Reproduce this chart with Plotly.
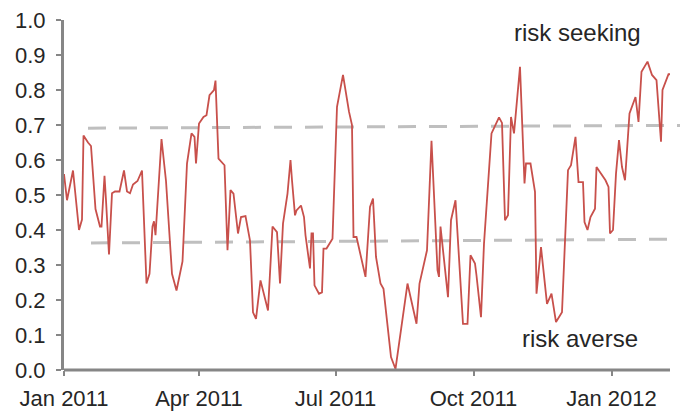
import plotly.graph_objects as go

dates = [
    "2011-01-01", "2011-01-03", "2011-01-07", "2011-01-11", "2011-01-13", "2011-01-14",
    "2011-01-17", "2011-01-19", "2011-01-22", "2011-01-25", "2011-01-26", "2011-01-28",
    "2011-01-29", "2011-01-31", "2011-02-02", "2011-02-04", "2011-02-07", "2011-02-10",
    "2011-02-12", "2011-02-14", "2011-02-16", "2011-02-19", "2011-02-22", "2011-02-25",
    "2011-02-27", "2011-03-01", "2011-03-02", "2011-03-03", "2011-03-07", "2011-03-10",
    "2011-03-14", "2011-03-17", "2011-03-21", "2011-03-24", "2011-03-27", "2011-03-29",
    "2011-03-30", "2011-04-01", "2011-04-04", "2011-04-06", "2011-04-08", "2011-04-11",
    "2011-04-12", "2011-04-14", "2011-04-18", "2011-04-20", "2011-04-22", "2011-04-24",
    "2011-04-27", "2011-04-29", "2011-05-02", "2011-05-05", "2011-05-07", "2011-05-09",
    "2011-05-12", "2011-05-17", "2011-05-20", "2011-05-23", "2011-05-25", "2011-05-27",
    "2011-05-30", "2011-06-01", "2011-06-02", "2011-06-04", "2011-06-05", "2011-06-08",
    "2011-06-10", "2011-06-11", "2011-06-14", "2011-06-15", "2011-06-16", "2011-06-17",
    "2011-06-20", "2011-06-22", "2011-06-23", "2011-06-25", "2011-06-29", "2011-07-02",
    "2011-07-06", "2011-07-10", "2011-07-12", "2011-07-13", "2011-07-15", "2011-07-21",
    "2011-07-24", "2011-07-26", "2011-07-28", "2011-07-31", "2011-08-02", "2011-08-07",
    "2011-08-10", "2011-08-12", "2011-08-18", "2011-08-24", "2011-08-26", "2011-08-31",
    "2011-09-03", "2011-09-07", "2011-09-08", "2011-09-09", "2011-09-14", "2011-09-16",
    "2011-09-19", "2011-09-24", "2011-09-27", "2011-09-29", "2011-10-02", "2011-10-03",
    "2011-10-06", "2011-10-08", "2011-10-13", "2011-10-18", "2011-10-20", "2011-10-22",
    "2011-10-24", "2011-10-26", "2011-10-28", "2011-10-29", "2011-11-01", "2011-11-04",
    "2011-11-05", "2011-11-08", "2011-11-11", "2011-11-12", "2011-11-15", "2011-11-19",
    "2011-11-22", "2011-11-25", "2011-11-29", "2011-12-03", "2011-12-05", "2011-12-08",
    "2011-12-10", "2011-12-13", "2011-12-14", "2011-12-16", "2011-12-18", "2011-12-21",
    "2011-12-22", "2011-12-28", "2011-12-30", "2011-12-31", "2012-01-02", "2012-01-04",
    "2012-01-06", "2012-01-08", "2012-01-10", "2012-01-13", "2012-01-17", "2012-01-19",
    "2012-01-21", "2012-01-25", "2012-01-28", "2012-01-31", "2012-02-03", "2012-02-04",
    "2012-02-08", "2012-02-09",
]

values = [
    0.56, 0.485, 0.57, 0.40, 0.43, 0.67,
    0.65, 0.64, 0.46, 0.41, 0.41, 0.555,
    0.485, 0.33, 0.505, 0.51, 0.51, 0.57,
    0.51, 0.505, 0.53, 0.54, 0.57, 0.247,
    0.275, 0.41, 0.425, 0.385, 0.66, 0.54,
    0.275, 0.227, 0.31, 0.59, 0.676, 0.666,
    0.59, 0.704, 0.723, 0.728, 0.785, 0.80,
    0.827, 0.604, 0.585, 0.342, 0.514, 0.504,
    0.39, 0.437, 0.44, 0.37, 0.165, 0.146,
    0.256, 0.17, 0.41, 0.394, 0.247, 0.418,
    0.504, 0.60, 0.542, 0.442, 0.456, 0.47,
    0.437, 0.385, 0.29, 0.39, 0.39, 0.242,
    0.218, 0.222, 0.347, 0.347, 0.375, 0.752,
    0.843, 0.738, 0.70, 0.38, 0.38, 0.266,
    0.466, 0.49, 0.323, 0.247, 0.232, 0.037,
    0.003, 0.065, 0.247, 0.132, 0.247, 0.342,
    0.655, 0.285, 0.266, 0.41, 0.208, 0.428,
    0.485, 0.132, 0.132, 0.328, 0.304, 0.27,
    0.151, 0.361, 0.676, 0.722, 0.706, 0.428,
    0.442, 0.723, 0.676, 0.723, 0.866, 0.533,
    0.59, 0.59, 0.509, 0.218, 0.351, 0.189,
    0.218, 0.137, 0.165, 0.571, 0.585, 0.666,
    0.537, 0.537, 0.423, 0.40, 0.437, 0.461,
    0.58, 0.542, 0.523, 0.39, 0.40, 0.561,
    0.657, 0.58, 0.542, 0.733, 0.78, 0.709,
    0.852, 0.881, 0.843, 0.828, 0.652, 0.80,
    0.845, 0.845,
]

# Trend bands (dashed): start/end dates and levels
upper_band_dates = ["2011-01-17", "2012-02-21"]
upper_band_values = [0.691, 0.699]
lower_band_dates = ["2011-01-19", "2012-02-21"]
lower_band_values = [0.363, 0.374]

x_tick_vals = ["2011-01-01", "2011-04-01", "2011-07-01", "2011-10-01", "2012-01-01"]
x_tick_text = ["Jan 2011", "Apr 2011", "Jul 2011", "Oct 2011", "Jan 2012"]
y_tick_vals = [0.0, 0.1, 0.2, 0.3, 0.4, 0.5, 0.6, 0.7, 0.8, 0.9, 1.0]

axis_end_date = "2012-02-09"
x_range = ["2011-01-01", "2012-02-21"]

FONT = "Liberation Sans, Arial, sans-serif"
TEXT_COLOR = "#262626"
AXIS_COLOR = "#868686"

fig = go.Figure()
fig.add_trace(go.Scatter(
    x=dates, y=values, mode="lines",
    line=dict(color="#c8504b", width=1.8),
    showlegend=False, hoverinfo="x+y",
))

for bd, bv in [(upper_band_dates, upper_band_values), (lower_band_dates, lower_band_values)]:
    fig.add_shape(type="line", xref="x", yref="y",
                  x0=bd[0], x1=bd[1], y0=bv[0], y1=bv[1],
                  line=dict(color="#bfbfbf", width=3, dash="18px,13px"),
                  layer="below")

# x axis baseline (stops at the end of the data)
fig.add_shape(type="line", xref="x", yref="paper",
              x0=x_range[0], x1=axis_end_date, y0=0, y1=0,
              line=dict(color=AXIS_COLOR, width=3), layer="above")

fig.add_annotation(x="2011-12-09", y=0.965, xref="x", yref="y",
                   text="risk seeking", showarrow=False,
                   xanchor="center", yanchor="middle",
                   font=dict(family=FONT, size=24, color=TEXT_COLOR))
fig.add_annotation(x="2011-12-11", y=0.09, xref="x", yref="y",
                   text="risk averse", showarrow=False,
                   xanchor="center", yanchor="middle",
                   font=dict(family=FONT, size=24, color=TEXT_COLOR))

# The page adds an 8px body margin, so the figure is drawn 8px smaller.
fig.update_layout(
    width=680, height=406,
    margin=dict(l=56, r=0, t=12, b=44, autoexpand=False),
    paper_bgcolor="white", plot_bgcolor="white",
    font=dict(family=FONT, size=22, color=TEXT_COLOR),
    xaxis=dict(
        type="date", range=x_range,
        tickvals=x_tick_vals, ticktext=x_tick_text,
        ticks="outside", ticklen=5, tickwidth=2, tickcolor=AXIS_COLOR,
        showline=False, showgrid=False, zeroline=False,
        ticklabelstandoff=4, ticklabeloverflow="allow",
        tickfont=dict(family=FONT, size=22, color=TEXT_COLOR),
    ),
    yaxis=dict(
        range=[0, 1], tickvals=y_tick_vals, tickformat=".1f",
        ticks="outside", ticklen=5, tickwidth=2, tickcolor=AXIS_COLOR,
        showline=True, linecolor=AXIS_COLOR, linewidth=3,
        showgrid=False, zeroline=False,
        ticklabelstandoff=6, ticklabeloverflow="allow",
        tickfont=dict(family=FONT, size=22, color=TEXT_COLOR),
    ),
)

fig.write_html("out.html")
